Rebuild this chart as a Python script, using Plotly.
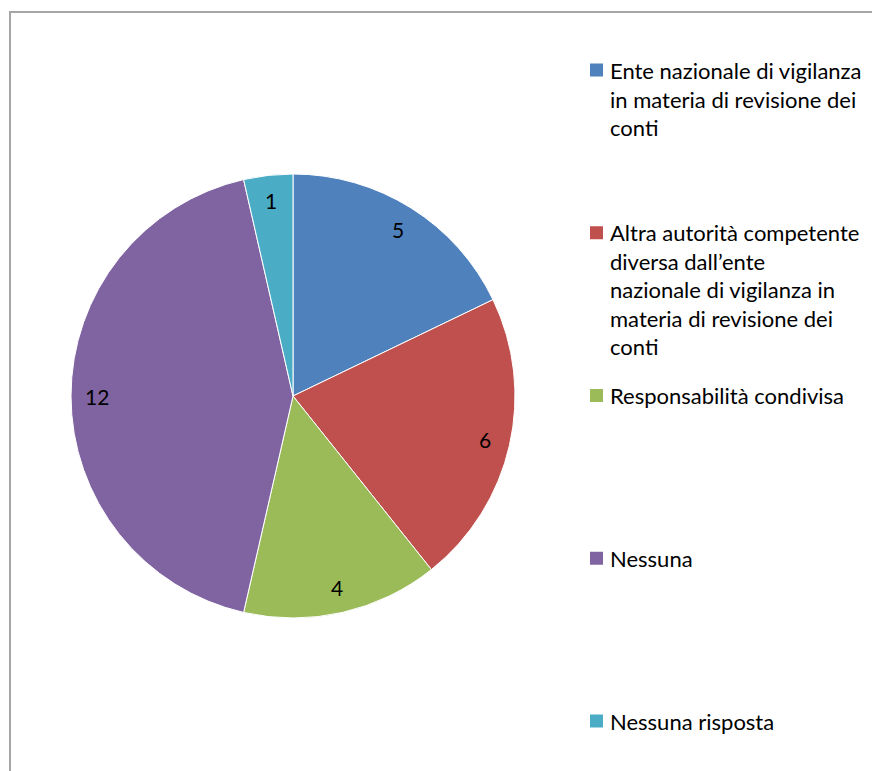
import numpy as np
import plotly.graph_objects as go

# ---- data ----
categories = [
    "Ente nazionale di vigilanza in materia di revisione dei conti",
    "Altra autorità competente diversa dall’ente nazionale di vigilanza in materia di revisione dei conti",
    "Responsabilità condivisa",
    "Nessuna",
    "Nessuna risposta",
]
legend_text = [
    "Ente nazionale di vigilanza<br>in materia di revisione dei<br>conti",
    "Altra autorità competente<br>diversa dall’ente<br>nazionale di vigilanza in<br>materia di revisione dei<br>conti",
    "Responsabilità condivisa",
    "Nessuna",
    "Nessuna risposta",
]
values = [5, 6, 4, 12, 1]
colors = ["#4F81BD", "#C0504D", "#9BBB59", "#8064A2", "#4BACC6"]

# page body has an 8px margin; work in page pixels and convert
OFF = 8
W, H = 880, 771
FONT = "Lato, Calibri, 'Open Sans', sans-serif"


def px_x(x):
    return (x - OFF) / W


def px_y(y):
    return 1 - (y - OFF) / H


# pie geometry (page pixels)
cx, cy, R = 293, 396, 222

fig = go.Figure()
fig.add_trace(go.Pie(
    labels=categories,
    values=values,
    sort=False,
    direction="clockwise",
    rotation=0,
    marker=dict(colors=colors, line=dict(color="white", width=1)),
    textinfo="none",
    hoverinfo="label+value",
    showlegend=False,
    domain=dict(x=[px_x(cx - R), px_x(cx + R)],
                y=[px_y(cy + R), px_y(cy - R)]),
))

annotations = []
# data labels placed near the outer edge of each slice (computed from the values)
total = float(np.sum(values))
cum = np.cumsum([0] + values[:-1])
rl = 0.885 * R
for v, c in zip(values, cum):
    th = 2 * np.pi * (c + v / 2.0) / total
    lx = cx + rl * np.sin(th)
    ly = cy - rl * np.cos(th)
    annotations.append(dict(
        x=px_x(lx), y=px_y(ly), xref="paper", yref="paper",
        text=str(v), showarrow=False, xanchor="center", yanchor="middle",
        font=dict(family=FONT, size=21, color="black"),
    ))

# manual legend
shapes = []
leg_x_marker = 590
leg_x_text = 608
leg_y0 = 70
leg_step = 162.75
for i, (t, col) in enumerate(zip(legend_text, colors)):
    yc = leg_y0 + i * leg_step
    shapes.append(dict(
        type="rect", xref="paper", yref="paper",
        x0=px_x(leg_x_marker), x1=px_x(leg_x_marker + 13),
        y0=px_y(yc + 6.5), y1=px_y(yc - 6.5),
        fillcolor=col, line=dict(width=0),
    ))
    annotations.append(dict(
        x=px_x(leg_x_text), y=px_y(yc - 15.5), xref="paper", yref="paper",
        text=t, showarrow=False, xanchor="left", yanchor="top", align="left",
        font=dict(family=FONT, size=22, color="black"),
    ))

# chart area border (extends off the right/bottom of the view)
shapes.append(dict(
    type="rect", xref="paper", yref="paper",
    x0=px_x(10), x1=px_x(920), y0=px_y(820), y1=px_y(12),
    line=dict(color="#a6a6a6", width=2), fillcolor="rgba(0,0,0,0)",
    layer="below",
))

fig.update_layout(
    width=W, height=H,
    margin=dict(l=0, r=0, t=0, b=0),
    paper_bgcolor="white",
    plot_bgcolor="white",
    annotations=annotations,
    shapes=shapes,
    font=dict(family=FONT),
)

fig.write_html("out.html")
